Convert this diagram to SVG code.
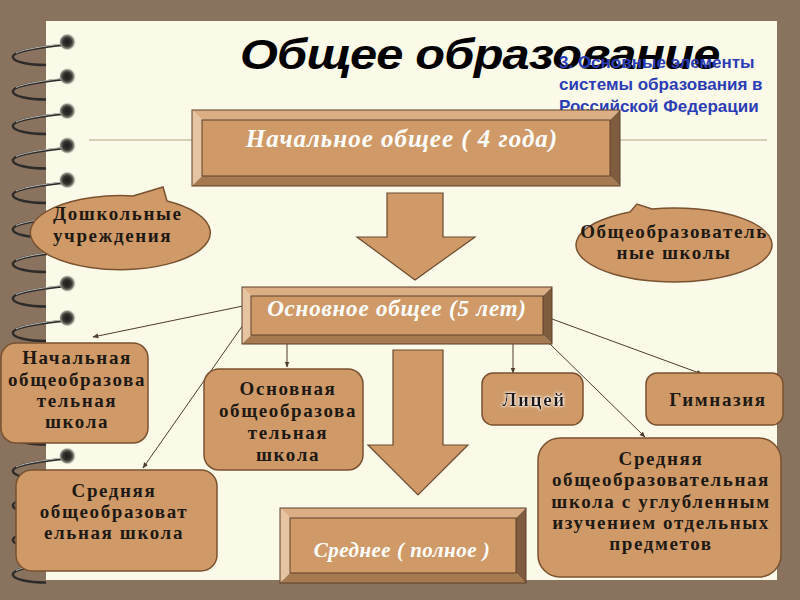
<svg xmlns="http://www.w3.org/2000/svg" width="800" height="600" viewBox="0 0 800 600">
<defs>
<style>
.paper{fill:#FBF9E7}
.wire{fill:none;stroke:#2E2C2A;stroke-width:2.4}
.wirehi{fill:none;stroke:#B8B8B0;stroke-width:1}
.face{fill:#CF9A68}
.btop{fill:#DCAE86}
.bleft{fill:#E6C4A2}
.bbot{fill:#A67A50}
.bright{fill:#7F5C3D}
.bout{fill:none;stroke:#5C4028;stroke-width:1}
.bt{font-family:"Liberation Serif","Times New Roman",serif;font-style:italic;font-weight:bold;fill:#FFFFFF;text-anchor:middle}
.lbl{font-family:"Liberation Serif","Times New Roman",serif;font-weight:bold;fill:#1E1912;font-size:19px;text-anchor:middle;letter-spacing:1.6px}
.node{fill:#CF9A68;stroke:#7A5230;stroke-width:1.5}
.big{fill:#CF9A68;stroke:#6B4A2E;stroke-width:1.2}
.con{stroke:#4E3C2C;stroke-width:1;fill:none;marker-end:url(#ah)}
</style>
<marker id="ah" viewBox="0 0 10 10" refX="9" refY="5" markerWidth="6" markerHeight="6" orient="auto" markerUnits="userSpaceOnUse">
<path d="M0,1 L10,5 L0,9 Z" fill="#4E3C2C"/>
</marker>
<radialGradient id="dot" cx="0.45" cy="0.5" r="0.5">
<stop offset="0" stop-color="#1C1C1A"/>
<stop offset="0.5" stop-color="#34332F"/>
<stop offset="0.78" stop-color="#85847A"/>
<stop offset="1" stop-color="#E4E2D2" stop-opacity="0.3"/>
</radialGradient>
<filter id="glow" x="-20%" y="-40%" width="140%" height="180%">
<feGaussianBlur in="SourceAlpha" stdDeviation="1.6" result="b"/>
<feFlood flood-color="#FFFFFF"/>
<feComposite in2="b" operator="in" result="g"/>
<feMerge><feMergeNode in="g"/><feMergeNode in="g"/><feMergeNode in="SourceGraphic"/></feMerge>
</filter>
<g id="ring">
<path class="wire" d="M62 45 C45 47 16 50 13 56 C11 62 30 65 46 65"/>
<path class="wirehi" d="M62 44 C46 46 24 49 16 53"/>
<circle cx="68" cy="42" r="8.5" fill="url(#dot)"/>
</g>
</defs>

<rect x="0" y="0" width="800" height="600" fill="#8A735E"/>
<rect class="paper" x="46" y="21" width="731" height="559"/>

<g id="spiral">
<use href="#ring"/>
<use href="#ring" y="34.5"/>
<use href="#ring" y="69"/>
<use href="#ring" y="103.5"/>
<use href="#ring" y="138"/>
<use href="#ring" y="172.5"/>
<use href="#ring" y="207"/>
<use href="#ring" y="241.5"/>
<use href="#ring" y="276"/>
<use href="#ring" y="310.5"/>
<use href="#ring" y="345"/>
<use href="#ring" y="379.5"/>
<use href="#ring" y="414"/>
<use href="#ring" y="448.5"/>
<use href="#ring" y="483"/>
<use href="#ring" y="517.5"/>
</g>

<line x1="89" y1="140" x2="767" y2="140" stroke="#C9C0A8" stroke-width="1.5"/>

<g id="title">
<text transform="translate(240,69) scale(1.16,1)" x="0" y="0" font-family="'Liberation Sans',Arial,sans-serif" font-style="italic" font-weight="bold" font-size="42" fill="#000" textLength="414" lengthAdjust="spacing">Общее образование</text>
</g>

<g id="caption" font-family="'Liberation Sans',Arial,sans-serif" font-size="17" font-weight="bold" fill="#2B3DB5">
<text x="559" y="68">3. Основные элементы</text>
<text x="559" y="90">системы образования в</text>
<text x="559" y="112">Российской Федерации</text>
</g>

<g id="connectors">
<line class="con" x1="243" y1="306" x2="93" y2="337"/>
<line class="con" x1="243" y1="325" x2="143" y2="468"/>
<line class="con" x1="287" y1="344" x2="287" y2="367"/>
<line class="con" x1="513" y1="344" x2="513" y2="373"/>
<line class="con" x1="552" y1="319" x2="702" y2="374"/>
<line class="con" x1="550" y1="344" x2="645" y2="437"/>
</g>

<g id="arrow1">
<polygon class="big" points="387,193 443,193 443,237 475,237 415,280 357,237 387,237"/>
</g>
<g id="arrow2">
<polygon class="big" points="393,350 443,350 443,445 468,445 418,495 368,445 393,445"/>
</g>

<g id="n-nachalnoe">
<polygon class="btop" points="192,110 620,110 610,120 202,120"/>
<polygon class="bleft" points="192,110 202,120 202,176 192,186"/>
<polygon class="bbot" points="192,186 202,176 610,176 620,186"/>
<polygon class="bright" points="620,110 620,186 610,176 610,120"/>
<rect class="face" x="202" y="120" width="408" height="56"/>
<rect class="bout" x="192" y="110" width="428" height="76"/>
<rect class="bout" x="202" y="120" width="408" height="56"/>
<text class="bt" x="402" y="147" font-size="25" letter-spacing="1">Начальное общее  ( 4 года)</text>
</g>

<g id="n-osnovnoe">
<polygon class="btop" points="242,287 552,287 543,296 251,296"/>
<polygon class="bleft" points="242,287 251,296 251,335 242,344"/>
<polygon class="bbot" points="242,344 251,335 543,335 552,344"/>
<polygon class="bright" points="552,287 552,344 543,335 543,296"/>
<rect class="face" x="251" y="296" width="292" height="39"/>
<rect class="bout" x="242" y="287" width="310" height="57"/>
<rect class="bout" x="251" y="296" width="292" height="39"/>
<text class="bt" x="397" y="316" font-size="23" letter-spacing="0.8">Основное общее (5  лет)</text>
</g>

<g id="n-srednee">
<polygon class="btop" points="280,508 526,508 516,518 290,518"/>
<polygon class="bleft" points="280,508 290,518 290,573 280,583"/>
<polygon class="bbot" points="280,583 290,573 516,573 526,583"/>
<polygon class="bright" points="526,508 526,583 516,573 516,518"/>
<rect class="face" x="290" y="518" width="226" height="55"/>
<rect class="bout" x="280" y="508" width="246" height="75"/>
<rect class="bout" x="290" y="518" width="226" height="55"/>
<text class="bt" x="402" y="557" font-size="21" letter-spacing="0.5">Среднее ( полное )</text>
</g>

<g id="n-doshkolnye">
<path class="node" d="M133,196 L163,187 L167,201 A90,37 0 1 1 133,196 Z"/>
<text class="lbl" x="53" y="220" font-size="22" letter-spacing="0.8" style="text-anchor:start">Дошкольные</text>
<text class="lbl" x="53" y="242" font-size="22" letter-spacing="0.8" style="text-anchor:start">учреждения</text>
</g>

<g id="n-obscheobr">
<path class="node" d="M630,211.9 L637,204 L652,208.9 A98,37 0 1 1 630,211.9 Z"/>
<text class="lbl" x="674" y="238" font-size="20" letter-spacing="0.5">Общеобразователь</text>
<text class="lbl" x="674" y="259" font-size="20" letter-spacing="0.8">ные школы</text>
</g>

<g id="n-nach-shkola">
<rect class="node" x="1" y="343" width="147" height="100" rx="15"/>
<text class="lbl"><tspan x="77" y="364">Начальная</tspan><tspan x="77" y="385.5">общеобразова</tspan><tspan x="77" y="407">тельная</tspan><tspan x="77" y="428">школа</tspan></text>
</g>

<g id="n-osn-shkola">
<rect class="node" x="204" y="369" width="159" height="101" rx="15"/>
<text class="lbl"><tspan x="288" y="395">Основная</tspan><tspan x="288" y="417">общеобразова</tspan><tspan x="288" y="439">тельная</tspan><tspan x="288" y="461">школа</tspan></text>
</g>

<g id="n-sred-shkola">
<rect class="node" x="16" y="470" width="201" height="101" rx="16"/>
<text class="lbl"><tspan x="114" y="497">Средняя</tspan><tspan x="114" y="518">общеобразоват</tspan><tspan x="114" y="539">ельная школа</tspan></text>
</g>

<g id="n-litsey">
<rect class="node" x="482" y="373" width="101" height="52" rx="11"/>
<text class="lbl" x="534" y="406" filter="url(#glow)">Лицей</text>
</g>

<g id="n-gimnaziya">
<rect class="node" x="646" y="373" width="137" height="52" rx="11"/>
<text class="lbl" x="718" y="406">Гимназия</text>
</g>

<g id="n-uglub">
<rect class="node" x="538" y="438" width="243" height="139" rx="22"/>
<text class="lbl"><tspan x="661" y="465">Средняя</tspan><tspan x="661" y="486">общеобразовательная</tspan><tspan x="661" y="508">школа с углубленным</tspan><tspan x="661" y="529">изучением отдельных</tspan><tspan x="661" y="550">предметов</tspan></text>
</g>
</svg>
